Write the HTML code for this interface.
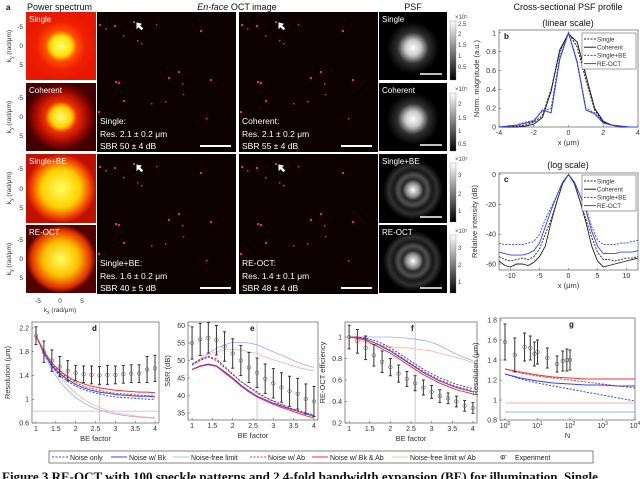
<!DOCTYPE html>
<html><head><meta charset="utf-8"><style>
html,body{margin:0;padding:0;background:#fff;}
svg{display:block;font-family:"Liberation Sans",sans-serif;}
</style></head><body>
<svg id="fig" width="640" height="479" viewBox="0 0 640 479" xmlns="http://www.w3.org/2000/svg">
<defs>
<radialGradient id="psSingle"><stop offset="0" stop-color="#ffff80"/><stop offset="0.3" stop-color="#ffe000"/><stop offset="0.45" stop-color="#ff5000"/><stop offset="0.7" stop-color="#f02000"/><stop offset="1" stop-color="#e81800"/></radialGradient>
<radialGradient id="psCoh"><stop offset="0" stop-color="#ffff80"/><stop offset="0.3" stop-color="#ffd000"/><stop offset="0.45" stop-color="#f03000"/><stop offset="0.75" stop-color="#a00800"/><stop offset="1" stop-color="#400000"/></radialGradient>
<radialGradient id="psBE"><stop offset="0" stop-color="#ffff60"/><stop offset="0.55" stop-color="#ffd000"/><stop offset="0.85" stop-color="#f04000"/><stop offset="1" stop-color="#c01000"/></radialGradient>
<radialGradient id="psRE"><stop offset="0" stop-color="#ffff60"/><stop offset="0.5" stop-color="#ffc000"/><stop offset="0.85" stop-color="#e03000"/><stop offset="1" stop-color="#500000"/></radialGradient>
<radialGradient id="psf1"><stop offset="0" stop-color="#fff"/><stop offset="0.3" stop-color="#c8c8c8"/><stop offset="0.6" stop-color="#303030"/><stop offset="1" stop-color="#000"/></radialGradient>
<radialGradient id="psf3"><stop offset="0" stop-color="#fff"/><stop offset="0.22" stop-color="#909090"/><stop offset="0.35" stop-color="#282828"/><stop offset="0.5" stop-color="#505050"/><stop offset="0.65" stop-color="#181818"/><stop offset="0.8" stop-color="#303030"/><stop offset="1" stop-color="#000"/></radialGradient>
<linearGradient id="cbar" x1="0" y1="0" x2="0" y2="1"><stop offset="0" stop-color="#fff"/><stop offset="1" stop-color="#000"/></linearGradient>
<g id="dots" fill="#ff2a10">
<rect x="2" y="12" width="2" height="2"/><rect x="8" y="16" width="1.5" height="1.5"/><rect x="17" y="13" width="2" height="2"/><rect x="26" y="23" width="1.5" height="1.5"/><rect x="36" y="9" width="2" height="2"/><rect x="40" y="28" width="1.5" height="1.5"/><rect x="44" y="31" width="1.5" height="1.5"/><rect x="59" y="12" width="1.3" height="1.3"/><rect x="103" y="18" width="2" height="2"/><rect x="81" y="59" width="2" height="2"/><rect x="71" y="65" width="2" height="2"/><rect x="113" y="67" width="2" height="2"/><rect x="18" y="69" width="2" height="2"/><rect x="21" y="70" width="2" height="2"/><rect x="85" y="71" width="1.5" height="1.5"/><rect x="26" y="88" width="2" height="2"/><rect x="54" y="91" width="1.5" height="1.5"/><rect x="68" y="89" width="1.5" height="1.5"/><rect x="1" y="99" width="2" height="2"/><rect x="109" y="106" width="1.5" height="1.5"/><rect x="86" y="82" width="1.3" height="1.3"/>
</g>
</defs>
<rect width="640" height="479" fill="#fff"/>
<g font-size="9" fill="#111">
<text x="6" y="10" font-weight="bold" font-size="8">a</text>
<text x="27" y="10">Power spectrum</text>
<text x="237" y="10" text-anchor="middle"><tspan font-style="italic">En-face</tspan> OCT image</text>
<text x="413" y="10" text-anchor="middle">PSF</text>
<text x="568" y="10" text-anchor="middle">Cross-sectional PSF profile</text>
<text x="568" y="26" text-anchor="middle">(linear scale)</text>
<text x="568" y="168" text-anchor="middle">(log scale)</text>
</g>
<g>
<rect x="26" y="12" width="70" height="68" fill="url(#psSingle)"/>
<rect x="26" y="83" width="70" height="68" fill="url(#psCoh)"/>
<rect x="26" y="154" width="70" height="69" fill="url(#psBE)"/>
<rect x="26" y="225" width="70" height="68" fill="url(#psRE)"/>
<g fill="#fff" font-size="8">
<text x="29" y="22">Single</text><text x="29" y="93">Coherent</text><text x="29" y="164">Single+BE</text><text x="29" y="235">RE-OCT</text>
</g>
<g fill="#333" font-size="6.5" text-anchor="end">
<text x="23" y="29">-5</text><text x="23" y="48">0</text><text x="23" y="67">5</text>
<text x="23" y="100">-5</text><text x="23" y="119">0</text><text x="23" y="138">5</text>
<text x="23" y="171">-5</text><text x="23" y="191">0</text><text x="23" y="210">5</text>
<text x="23" y="242">-5</text><text x="23" y="261">0</text><text x="23" y="280">5</text>
</g>
<g fill="#333" font-size="6.5" text-anchor="middle">
<text transform="translate(11,46) rotate(-90)">k<tspan font-size="5" dy="2">y</tspan><tspan dy="-2"> (rad/μm)</tspan></text>
<text transform="translate(11,117) rotate(-90)">k<tspan font-size="5" dy="2">y</tspan><tspan dy="-2"> (rad/μm)</tspan></text>
<text transform="translate(11,188) rotate(-90)">k<tspan font-size="5" dy="2">y</tspan><tspan dy="-2"> (rad/μm)</tspan></text>
<text transform="translate(11,259) rotate(-90)">k<tspan font-size="5" dy="2">y</tspan><tspan dy="-2"> (rad/μm)</tspan></text>
<text x="38" y="303">-5</text><text x="60" y="303">0</text><text x="82" y="303">5</text>
<text x="60" y="312">k<tspan font-size="5" dy="2">x</tspan><tspan dy="-2"> (rad/μm)</tspan></text>
</g>
</g>
<g id="enface">
<rect x="97" y="12" width="139" height="140" fill="#0c0000"/>
<rect x="239" y="12" width="139" height="140" fill="#0c0000"/>
<rect x="97" y="154" width="139" height="140" fill="#0c0000"/>
<rect x="239" y="154" width="139" height="140" fill="#0c0000"/>
<use href="#dots" x="97" y="12"/><use href="#dots" x="239" y="12"/><use href="#dots" x="97" y="154"/><use href="#dots" x="239" y="154"/>
<g fill="#fff" font-size="8.5">
<text x="100" y="124">Single:</text><text x="100" y="137">Res. 2.1 ± 0.2 μm</text><text x="100" y="149">SBR 50 ± 4 dB</text>
<text x="242" y="124">Coherent:</text><text x="242" y="137">Res. 2.1 ± 0.2 μm</text><text x="242" y="149">SBR 55 ± 4 dB</text>
<text x="100" y="266">Single+BE:</text><text x="100" y="279">Res. 1.6 ± 0.2 μm</text><text x="100" y="291">SBR 40 ± 5 dB</text>
<text x="242" y="266">RE-OCT:</text><text x="242" y="279">Res. 1.4 ± 0.1 μm</text><text x="242" y="291">SBR 48 ± 4 dB</text>
</g>
<g stroke="#fff" stroke-width="2">
<line x1="200" y1="146" x2="231" y2="146"/><line x1="341" y1="146" x2="372" y2="146"/>
<line x1="200" y1="288" x2="231" y2="288"/><line x1="341" y1="288" x2="372" y2="288"/>
</g>
<g fill="#fff" stroke="#fff" stroke-width="1">
<path d="M137,23 l0,5 l1.5,-1.5 l3,3 l1,-1 l-3,-3 l1.5,-1.5 z"/>
<path d="M279,23 l0,5 l1.5,-1.5 l3,3 l1,-1 l-3,-3 l1.5,-1.5 z"/>
<path d="M137,165 l0,5 l1.5,-1.5 l3,3 l1,-1 l-3,-3 l1.5,-1.5 z"/>
<path d="M279,165 l0,5 l1.5,-1.5 l3,3 l1,-1 l-3,-3 l1.5,-1.5 z"/>
</g>
</g>
<g>
<rect x="379" y="12" width="68" height="68" fill="#000"/><circle cx="413" cy="48" r="26" fill="url(#psf1)"/>
<rect x="379" y="83" width="68" height="68" fill="#000"/><circle cx="413" cy="119" r="26" fill="url(#psf1)"/>
<rect x="379" y="154" width="68" height="69" fill="#000"/><circle cx="413" cy="190" r="30" fill="url(#psf3)"/>
<rect x="379" y="225" width="68" height="68" fill="#000"/><circle cx="413" cy="261" r="30" fill="url(#psf3)"/>
<g fill="#fff" font-size="8"><text x="382" y="22">Single</text><text x="382" y="93">Coherent</text><text x="382" y="164">Single+BE</text><text x="382" y="235">RE-OCT</text></g>
<g stroke="#fff" stroke-width="1.5"><line x1="420" y1="74" x2="442" y2="74"/><line x1="420" y1="145" x2="442" y2="145"/><line x1="420" y1="217" x2="442" y2="217"/><line x1="420" y1="288" x2="442" y2="288"/></g>
<g>
<rect x="450" y="21" width="6" height="59" fill="url(#cbar)" stroke="#666" stroke-width="0.3"/>
<rect x="450" y="93" width="6" height="58" fill="url(#cbar)" stroke="#666" stroke-width="0.3"/>
<rect x="450" y="163" width="6" height="59" fill="url(#cbar)" stroke="#666" stroke-width="0.3"/>
<rect x="450" y="235" width="6" height="58" fill="url(#cbar)" stroke="#666" stroke-width="0.3"/>
<g fill="#444" font-size="6">
<text x="455" y="19">×10⁵</text><text x="458" y="26">2.5</text><text x="458" y="36">2</text><text x="458" y="47">1.5</text><text x="458" y="58">1</text><text x="458" y="69">0.5</text>
<text x="455" y="91">×10⁵</text><text x="458" y="106">2</text><text x="458" y="120">1.5</text><text x="458" y="133">1</text><text x="458" y="146">0.5</text>
<text x="455" y="161">×10⁵</text><text x="458" y="177">3</text><text x="458" y="196">2</text><text x="458" y="213">1</text>
<text x="455" y="233">×10⁵</text><text x="458" y="250">3</text><text x="458" y="267">2</text><text x="458" y="284">1</text>
</g>
</g>
</g>
<g id="plots"></g>
<g>
<rect x="49" y="451" width="544" height="12" fill="#fff" stroke="#333" stroke-width="0.6"/>
<g font-size="7" fill="#222">
<line x1="52" y1="457" x2="68" y2="457" stroke="#3344ee" stroke-dasharray="2,1.5"/><text x="70" y="460">Noise only</text>
<line x1="111" y1="457" x2="127" y2="457" stroke="#3344ee" stroke-width="1"/><text x="129" y="460">Noise w/ Bk</text>
<line x1="173" y1="457" x2="189" y2="457" stroke="#99aaff" stroke-width="0.8"/><text x="191" y="460">Noise-free limit</text>
<line x1="250" y1="457" x2="266" y2="457" stroke="#ee3333" stroke-dasharray="2,1.5"/><text x="268" y="460">Noise w/ Ab</text>
<line x1="312" y1="457" x2="328" y2="457" stroke="#ee3333" stroke-width="1"/><text x="330" y="460">Noise w/ Bk &amp; Ab</text>
<line x1="392" y1="457" x2="408" y2="457" stroke="#ffaaaa" stroke-width="0.8"/><text x="410" y="460">Noise-free limit w/ Ab</text>
<text x="500" y="460">Φ̄</text><text x="515" y="460">Experiment</text>
</g>
</g>
<text x="2" y="481" font-family="Liberation Serif,serif" font-weight="bold" font-size="13" fill="#111">Figure 3 RE-OCT with 100 speckle patterns and 2.4-fold bandwidth expansion (BE) for illumination. Single,</text>
</svg>
<script>
// ---- data: panel b (linear PSF profile)
const bX = [-4,-3.5,-3,-2.5,-2,-1.5,-1,-0.5,0,0.5,1,1.5,2,2.5,3,3.5,4];
const bSingle = [0,0,0.01,0.02,0.05,0.12,0.4,0.8,1,0.85,0.5,0.18,0.05,0.02,0.01,0,0];
const bCoherent = [0,0,0,0.01,0.03,0.1,0.38,0.82,0.99,0.9,0.55,0.2,0.06,0.02,0,0,0];
const bSingleBE = [0,0.01,0.02,0.05,0.07,0.17,0.2,0.75,1,0.7,0.2,0.15,0.05,0.02,0.01,0,0];
const bREOCT = [0,0.01,0.02,0.04,0.06,0.18,0.15,0.72,1,0.68,0.18,0.14,0.04,0.02,0.01,0,0];
// ---- data: panel c (log PSF profile)
const cX = [-12,-11,-10,-9,-8,-7,-6,-5,-4,-3,-2,-1,0,1,2,3,4,5,6,7,8,9,10,11,12];
const cSingle = [-55,-57,-58,-57,-56,-57,-55,-50,-40,-30,-18,-6,0,-6,-18,-30,-42,-52,-57,-57,-58,-57,-56,-56,-55];
const cCoherent = [-58,-61,-62,-60,-60,-61,-59,-55,-48,-32,-18,-6,0,-6,-18,-32,-48,-58,-62,-61,-60,-59,-58,-57,-56];
const cSingleBE = [-46,-47,-47,-47,-47,-46,-45,-40,-30,-22,-14,-5,0,-5,-14,-22,-35,-44,-47,-47,-47,-46,-46,-45,-44];
const cREOCT = [-52,-53,-54,-54,-54,-53,-51,-46,-35,-24,-14,-5,0,-5,-14,-24,-38,-48,-53,-53,-53,-52,-52,-52,-51];
// ---- data: BE factor axis (panels d,e,f)
const beX = [1,1.2,1.4,1.6,1.8,2,2.2,2.4,2.6,2.8,3,3.2,3.4,3.6,3.8,4];
// panel d: resolution
const dExp = [2.07,1.8,1.65,1.55,1.48,1.44,1.42,1.41,1.4,1.41,1.41,1.42,1.43,1.43,1.5,1.52];
const dErr = [0.15,0.18,0.18,0.17,0.17,0.13,0.14,0.15,0.15,0.16,0.15,0.15,0.15,0.15,0.22,0.22];
const dBlueDash = [2.07,1.78,1.55,1.4,1.3,1.22,1.16,1.12,1.09,1.06,1.04,1.03,1.02,1.01,1.0,1.0];
const dBlueSolid = [2.07,1.79,1.57,1.43,1.33,1.25,1.19,1.15,1.12,1.1,1.08,1.07,1.06,1.05,1.05,1.04];
const dBlueFree = [2.07,1.75,1.5,1.3,1.15,1.03,0.94,0.87,0.82,0.78,0.75,0.73,0.71,0.7,0.69,0.68];
const dRedDash = [2.07,1.8,1.59,1.45,1.36,1.28,1.22,1.18,1.15,1.12,1.1,1.09,1.08,1.07,1.06,1.06];
const dRedSolid = [2.07,1.81,1.61,1.48,1.38,1.31,1.26,1.22,1.19,1.17,1.15,1.14,1.13,1.12,1.12,1.11];
const dRedFree = [2.07,1.78,1.55,1.38,1.23,1.1,1.0,0.92,0.86,0.81,0.77,0.75,0.73,0.71,0.7,0.69];
// panel e: SBR
const eExp = [55,56,56.5,55.8,54,52,50,48,46.5,44.8,43.5,42.3,41.2,40.5,39,38.3];
const eErr = [4.6,4.6,4.4,4.2,4.2,4.2,4.3,4.3,4.2,4.2,4.2,4.2,4.3,4.4,4.3,4.3];
const eBlueDash = [48.8,50,51,50,48,46,44,42.5,41,39.5,38.5,37.5,36.5,35.8,35,34.5];
const eBlueSolid = [47.5,48.5,49,48.5,46.8,45,43,41.3,39.8,38.8,37.8,37,36.2,35.5,34.8,34.2];
const eBlueFree = [49,50.5,52,53.5,54.5,55.2,55.2,55,54.5,53.5,52.5,51.5,50.5,49.5,48.7,48];
const eRedDash = [49,50.3,51.2,50.5,48.3,46.2,44,42.3,40.7,39.4,38.3,37.3,36.3,35.5,34.7,34];
const eRedSolid = [47.4,48.3,48.8,48.3,46.5,44.7,42.7,41,39.6,38.5,37.5,36.6,35.8,35,34.2,33.6];
const eRedFree = [48.5,50,51.5,52.5,53,53.2,53,52.5,52,51,50.2,49.5,48.8,48,47.5,47];
// panel f: RE-OCT efficiency
const fExp = [1.0,0.96,0.9,0.83,0.77,0.72,0.66,0.61,0.57,0.53,0.49,0.45,0.43,0.4,0.36,0.34];
const fErr = [0.11,0.11,0.11,0.1,0.1,0.08,0.08,0.07,0.07,0.07,0.06,0.06,0.05,0.05,0.05,0.05];
const fBlueDash = [1,1,0.99,0.97,0.94,0.9,0.85,0.8,0.75,0.7,0.66,0.62,0.59,0.56,0.54,0.52];
const fBlueSolid = [1,1,0.98,0.95,0.91,0.87,0.82,0.77,0.72,0.67,0.63,0.59,0.56,0.53,0.51,0.49];
const fBlueFree = [1,1,1,1,1,1,0.995,0.99,0.98,0.97,0.95,0.92,0.88,0.84,0.81,0.78];
const fRedDash = [1,1,0.98,0.95,0.92,0.88,0.83,0.78,0.73,0.68,0.64,0.6,0.57,0.54,0.52,0.5];
const fRedSolid = [1,0.99,0.97,0.93,0.89,0.85,0.8,0.75,0.7,0.65,0.61,0.57,0.54,0.51,0.49,0.47];
const fRedFree = [1,0.98,0.95,0.93,0.92,0.91,0.9,0.9,0.89,0.88,0.87,0.85,0.83,0.81,0.79,0.76];
// panel g: resolution vs N
const gExpN = [1,2,4,6,8,10,20,40,60,80,100];
const gExp = [1.58,1.45,1.53,1.52,1.46,1.48,1.42,1.36,1.39,1.4,1.4];
const gErr = [0.18,0.17,0.14,0.12,0.12,0.12,0.1,0.08,0.1,0.11,0.1];
const gN = [1,3,10,30,100,300,1000,3000,10000];
const gRedSolid = [1.31,1.28,1.25,1.23,1.22,1.21,1.21,1.21,1.21];
const gRedDash = [1.31,1.27,1.24,1.22,1.2,1.18,1.16,1.14,1.12];
const gBlueSolid = [1.26,1.22,1.19,1.17,1.16,1.15,1.15,1.14,1.14];
const gBlueDash = [1.26,1.21,1.17,1.14,1.11,1.08,1.05,1.02,0.99];
const gRedFree = [0.97,0.97,0.97,0.97,0.97,0.97,0.97,0.97,0.97];
const gBlueFree = [0.88,0.88,0.88,0.88,0.88,0.88,0.88,0.88,0.88];
// tick labels
const bXTicks = [-4,-2,0,2,4];
const bYTicks = [0,0.2,0.4,0.6,0.8,1];
const cXTicks = [-10,-5,0,5,10];
const cYTicks = [0,-20,-40,-60];
const beTicks = [1,1.5,2,2.5,3,3.5,4];
const dYTicks = [0.6,1,1.4,1.8,2.2];
const eYTicks = [35,40,45,50,55,60];
const fYTicks = [0.2,0.4,0.6,0.8,1];
const gYTicks = [0.8,1,1.2,1.4,1.6,1.8];
const gXTicks = [0,1,2,3,4];

const NS = 'http://www.w3.org/2000/svg';
const root = document.getElementById('plots');
const BLUE = '#3344ee', RED = '#ee3333', BLUEF = '#99aaff', REDF = '#ffaaaa';

function mk(tag, attrs, parent) {
  const el = document.createElementNS(NS, tag);
  for (const k in attrs) el.setAttribute(k, attrs[k]);
  parent.appendChild(el);
  return el;
}
function scale(d0, d1, r0, r1) { return v => r0 + (v - d0) / (d1 - d0) * (r1 - r0); }

function axes(name, box, xd, yd, xt, yt, xlab, ylab, letter, xfmt) {
  const g = mk('g', {}, root);
  
  
  const sx = box.sx || scale(xd[0], xd[1], box.l, box.r);
  const sy = scale(yd[0], yd[1], box.b, box.t);
  const frame = mk('rect', {x: box.l, y: box.t, width: box.r - box.l, height: box.b - box.t, fill: 'none', stroke: '#444', 'stroke-width': 0.6}, g);
  
  
  xt.forEach(v => {
    const x = sx(v);
    mk('line', {x1: x, y1: box.b, x2: x, y2: box.b - 2, stroke: '#444', 'stroke-width': 0.5}, g);
    const t = mk('text', {x: x, y: box.b + 8, 'font-size': 7, 'text-anchor': 'middle', fill: '#333'}, g);
    if (xfmt) { t.innerHTML = '10<tspan font-size="5" dy="-3">' + v + '</tspan>'; }
    else t.textContent = v;
    
    
  });
  yt.forEach(v => {
    const y = sy(v);
    mk('line', {x1: box.l, y1: y, x2: box.l + 2, y2: y, stroke: '#444', 'stroke-width': 0.5}, g);
    const t = mk('text', {x: box.l - 3, y: y + 2.5, 'font-size': 7, 'text-anchor': 'end', fill: '#333'}, g);
    t.textContent = v;
    
    
  });
  const xl = mk('text', {x: (box.l + box.r) / 2, y: box.b + 18, 'font-size': 7.5, 'text-anchor': 'middle', fill: '#333'}, g);
  xl.innerHTML = xlab;
  
  
  const yl = mk('text', {transform: 'translate(' + (box.l - box.yo) + ',' + ((box.t + box.b) / 2) + ') rotate(-90)', 'font-size': 7.5, 'text-anchor': 'middle', fill: '#333'}, g);
  yl.innerHTML = ylab;
  
  
  const lt = mk('text', {x: box.lx, y: box.t + 9, 'font-size': 8, 'font-weight': 'bold', fill: '#111'}, g);
  lt.textContent = letter;
  
  
  return {g, sx, sy};
}
function series(ax, xs, ys, color, w, dash, name) {
  const d = xs.map((x, i) => (i ? 'L' : 'M') + ax.sx(x).toFixed(1) + ',' + ax.sy(ys[i]).toFixed(1)).join('');
  const p = mk('path', {d: d, fill: 'none', stroke: color, 'stroke-width': w}, ax.g);
  if (dash) p.setAttribute('stroke-dasharray', dash);
  
  
}
function errbars(ax, xs, ys, es, name) {
  xs.forEach((x, i) => {
    const cx = ax.sx(x);
    const g = mk('g', {stroke: '#333', 'stroke-width': 1, fill: 'none'}, ax.g);
    
    
    mk('line', {x1: cx, y1: ax.sy(ys[i] - es[i]), x2: cx, y2: ax.sy(ys[i] + es[i])}, g);
    mk('line', {x1: cx - 1.5, y1: ax.sy(ys[i] - es[i]), x2: cx + 1.5, y2: ax.sy(ys[i] - es[i])}, g);
    mk('line', {x1: cx - 1.5, y1: ax.sy(ys[i] + es[i]), x2: cx + 1.5, y2: ax.sy(ys[i] + es[i])}, g);
    mk('circle', {cx: cx, cy: ax.sy(ys[i]), r: 1.8, stroke: '#666', 'stroke-width': 0.6}, g);
  });
}
function legendBox(ax, x, y, items) {
  const g = mk('g', {}, ax.g);
  
  
  mk('rect', {x: x, y: y, width: 54, height: 36, fill: '#fff', stroke: '#444', 'stroke-width': 0.5}, g);
  items.forEach((it, i) => {
    const yy = y + 6 + i * 8.2;
    const l = mk('line', {x1: x + 2, y1: yy, x2: x + 14, y2: yy, stroke: it[1], 'stroke-width': 1}, g);
    if (it[2]) l.setAttribute('stroke-dasharray', it[2]);
    const t = mk('text', {x: x + 15, y: yy + 2.3, 'font-size': 6.3, fill: '#333'}, g);
    t.textContent = it[0];
    
    
  });
}
const legItems = [['Single', '#222', '2,1.3'], ['Coherent', '#222', ''], ['Single+BE', BLUE, '2,1.3'], ['RE-OCT', BLUE, '']];

// panel b
const axB = axes('plot-b-linear-profile', {l: 499, r: 638, t: 30, b: 127, yo: 20, lx: 504}, [-4, 4], [0, 1.03], bXTicks, bYTicks, 'x (μm)', 'Norm. magnitude (a.u.)', 'b');
series(axB, bX, bSingle, '#222', 1, '2,1.3', 'line-single');
series(axB, bX, bCoherent, '#222', 1, '', 'line-coherent');
series(axB, bX, bSingleBE, BLUE, 1, '2,1.3', 'line-single-be');
series(axB, bX, bREOCT, BLUE, 1, '', 'line-re-oct');
legendBox(axB, 582, 33, legItems);
// panel c
const axC = axes('plot-c-log-profile', {l: 499, r: 638, t: 173, b: 270, yo: 22, lx: 504}, [-12, 12], [-64, 1], cXTicks, cYTicks, 'x (μm)', 'Relative intensity (dB)', 'c');
series(axC, cX, cSingle, '#222', 0.9, '2,1.3', 'line-single');
series(axC, cX, cCoherent, '#222', 0.9, '', 'line-coherent');
series(axC, cX, cSingleBE, BLUE, 0.9, '2,1.3', 'line-single-be');
series(axC, cX, cREOCT, BLUE, 0.9, '', 'line-re-oct');
legendBox(axC, 582, 175, legItems);

function beSet(ax, bd, bs, bf, rd, rs, rf) {
  series(ax, beX, bf, BLUEF, 0.8, '', 'line-noise-free-limit');
  series(ax, beX, rf, REDF, 0.8, '', 'line-noise-free-limit-ab');
  series(ax, beX, bd, BLUE, 1, '2,1.5', 'line-noise-only');
  series(ax, beX, bs, BLUE, 1, '', 'line-noise-bk');
  series(ax, beX, rd, RED, 1, '2,1.5', 'line-noise-ab');
  series(ax, beX, rs, RED, 1, '', 'line-noise-bk-ab');
}
function vline(ax, v, y0, y1) {
  const l = mk('line', {x1: ax.sx(v), x2: ax.sx(v), y1: y0, y2: y1, stroke: '#bbb', 'stroke-width': 0.8}, ax.g);
  
  
}
// panel d
const axD = axes('plot-d-resolution', {l: 32, r: 159, t: 322, b: 423, yo: 22, lx: 92}, [0.9, 4.1], [0.6, 2.3], beTicks, dYTicks, 'BE factor', 'Resolution (μm)', 'd');
const hl = mk('line', {x1: 32, x2: 159, y1: axD.sy(0.8), y2: axD.sy(0.8), stroke: '#bbb', 'stroke-width': 0.8}, axD.g);


vline(axD, 2.6, 322, 423);
beSet(axD, dBlueDash, dBlueSolid, dBlueFree, dRedDash, dRedSolid, dRedFree);
errbars(axD, beX, dExp, dErr, 'experiment-point');
// panel e
const axE = axes('plot-e-sbr', {l: 188, r: 318, t: 322, b: 420, yo: 18, lx: 250}, [0.9, 4.1], [33, 61], beTicks, eYTicks, 'BE factor', 'SBR (dB)', 'e');
vline(axE, 2.6, 322, 420);
beSet(axE, eBlueDash, eBlueSolid, eBlueFree, eRedDash, eRedSolid, eRedFree);
errbars(axE, beX, eExp, eErr, 'experiment-point');
// panel f
const axF = axes('plot-f-efficiency', {l: 345, r: 477, t: 322, b: 423, yo: 20, lx: 411}, [0.9, 4.1], [0.2, 1.14], beTicks, fYTicks, 'BE factor', 'RE-OCT efficiency', 'f');
vline(axF, 2.6, 322, 423);
beSet(axF, fBlueDash, fBlueSolid, fBlueFree, fRedDash, fRedSolid, fRedFree);
errbars(axF, beX, fExp, fErr, 'experiment-point');
// panel g
const lsx = v => 505 + Math.log10(v) / 4 * 130;
const axG = axes('plot-g-resolution-vs-n', {l: 500, r: 635, t: 318, b: 420, yo: 22, lx: 569, sx: v => 505 + v / 4 * 130}, [0, 4], [0.8, 1.82], gXTicks, gYTicks, 'N', 'Resolution (μm)', 'g', true);
const axGl = {g: axG.g, sx: lsx, sy: axG.sy};
series(axGl, gN, gRedFree, REDF, 0.9, '', 'line-noise-free-limit-ab');
series(axGl, gN, gBlueFree, BLUEF, 0.9, '', 'line-noise-free-limit');
series(axGl, gN, gRedSolid, RED, 1, '', 'line-noise-bk-ab');
series(axGl, gN, gRedDash, RED, 1, '2,1.5', 'line-noise-ab');
series(axGl, gN, gBlueSolid, BLUE, 1, '', 'line-noise-bk');
series(axGl, gN, gBlueDash, BLUE, 1, '2,1.5', 'line-noise-only');
errbars(axGl, gExpN, gExp, gErr, 'experiment-point');
</script>
</body></html>
